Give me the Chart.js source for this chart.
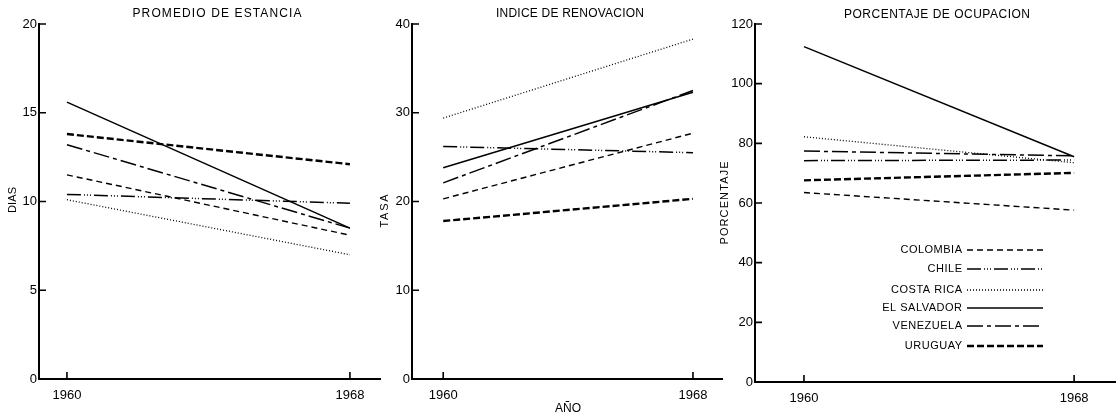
<!DOCTYPE html>
<html>
<head>
<meta charset="utf-8">
<script src="https://cdn.jsdelivr.net/npm/chart.js@4"></script>
<style>
  html, body { margin: 0; padding: 0; background: #fff; }
  #wrap { position: relative; width: 1116px; height: 416px; overflow: hidden; }
  .panel { position: absolute; top: 0; height: 416px; }
</style>
</head>
<body>
<div id="wrap">
  <div class="panel" style="left:0;width:385px"><canvas id="c1"></canvas></div>
  <div class="panel" style="left:380px;width:345px"><canvas id="c2"></canvas></div>
  <div class="panel" style="left:705px;width:411px"><canvas id="c3"></canvas></div>
</div>
<script>
const FONT = '"Liberation Sans", Arial, sans-serif';

const YEARS = [1960, 1968];
const COUNTRIES = ['COLOMBIA', 'CHILE', 'COSTA RICA', 'EL SALVADOR', 'VENEZUELA', 'URUGUAY'];

// promedio de estancia (dias), same order as COUNTRIES
const ESTANCIA_1960 = [11.5, 10.4, 10.1, 15.6, 13.2, 13.8];
const ESTANCIA_1968 = [8.1, 9.9, 7.0, 8.5, 8.5, 12.1];
const ESTANCIA_TICKS = [0, 5, 10, 15, 20];

// indice de renovacion (tasa)
const RENOVACION_1960 = [20.3, 26.2, 29.4, 23.8, 22.1, 17.8];
const RENOVACION_1968 = [27.7, 25.5, 38.3, 32.3, 32.5, 20.3];
const RENOVACION_TICKS = [0, 10, 20, 30, 40];

// porcentaje de ocupacion
const OCUPACION_1960 = [63.5, 74.2, 82.2, 112.4, 77.4, 67.6];
const OCUPACION_1968 = [57.6, 74.4, 73.5, 75.5, 75.8, 70.1];
const OCUPACION_TICKS = [0, 20, 40, 60, 80, 100, 120];

// line look per country
const STYLES = [
  { borderDash: [6, 4], borderWidth: 1.4 },
  { borderDash: [14, 3, 1, 2, 1, 2, 1, 3], borderWidth: 1.5 },
  { borderDash: [1, 2], borderWidth: 1.3 },
  { borderDash: [], borderWidth: 1.5 },
  { borderDash: [16, 4, 4, 4], borderWidth: 1.5 },
  { borderDash: [7, 3], borderWidth: 2.4 }
];

function makeDatasets(v1960, v1968) {
  return COUNTRIES.map((c, i) => ({
    label: c,
    data: [{ x: YEARS[0], y: v1960[i] }, { x: YEARS[1], y: v1968[i] }],
    borderColor: '#000',
    backgroundColor: '#000',
    pointRadius: 0,
    fill: false,
    tension: 0,
    borderCapStyle: 'butt',
    ...STYLES[i]
  }));
}

// text with letter spacing stretched to a width
function drawText(ctx, t) {
  ctx.save();
  ctx.font = (t.size || 11) + 'px ' + FONT;
  ctx.fillStyle = '#000';
  ctx.textBaseline = 'middle';
  ctx.letterSpacing = '0px';
  let sp = t.spacing || 0;
  if (t.width) {
    const w = ctx.measureText(t.text).width;
    sp = Math.max(0, (t.width - w) / Math.max(1, t.text.length - 1));
  }
  ctx.letterSpacing = sp + 'px';
  ctx.translate(t.x, t.y);
  if (t.rotate) ctx.rotate(-Math.PI / 2);
  const w2 = ctx.measureText(t.text).width - sp;
  let dx = -w2 / 2;
  if (t.align === 'right') dx = -w2;
  ctx.textAlign = 'left';
  ctx.fillText(t.text, dx, 0);
  ctx.restore();
}

const decor = {
  id: 'decor',
  afterDraw(chart, args, opts) {
    const ctx = chart.ctx;
    const area = chart.chartArea;
    const xs = chart.scales.x, ys = chart.scales.y;
    const off = opts.offsetX;
    ctx.save();
    ctx.strokeStyle = '#000';
    ctx.lineWidth = 1.6;
    ctx.beginPath();
    ys.ticks.forEach(t => {
      if (t.value === 0) return;
      const py = ys.getPixelForValue(t.value);
      ctx.moveTo(area.left, py);
      ctx.lineTo(area.left + 7, py);
    });
    YEARS.forEach(yr => {
      const px = xs.getPixelForValue(yr);
      ctx.moveTo(px, area.bottom);
      ctx.lineTo(px, area.bottom - 7);
    });
    ctx.stroke();
    ctx.restore();

    opts.texts.forEach(t => drawText(ctx, { ...t, x: t.x - off }));

    if (opts.legend) {
      const L = opts.legend;
      chart.data.datasets.forEach((ds, i) => {
        const y = L.rows[i];
        drawText(ctx, { text: ds.label, x: L.textRight - off, y: y, size: 11, spacing: 0.5, align: 'right' });
        ctx.save();
        ctx.strokeStyle = '#000';
        ctx.lineWidth = ds.borderWidth;
        ctx.setLineDash(ds.borderDash);
        ctx.beginPath();
        ctx.moveTo(L.lineStart - off, y);
        ctx.lineTo(L.lineEnd - off, y);
        ctx.stroke();
        ctx.restore();
      });
    }
  }
};

function makeChart(id, p) {
  return new Chart(document.getElementById(id), {
    type: 'line',
    data: { datasets: makeDatasets(p.v1960, p.v1968) },
    plugins: [decor],
    options: {
      responsive: true,
      maintainAspectRatio: false,
      animation: false,
      events: [],
      layout: { padding: { top: 24, right: p.padRight, left: 0, bottom: 0 } },
      plugins: {
        legend: { display: false },
        tooltip: { enabled: false },
        decor: { offsetX: p.offsetX, texts: p.texts, legend: p.legend }
      },
      scales: {
        x: {
          type: 'linear',
          min: p.xmin,
          max: p.xmax,
          afterBuildTicks: s => { s.ticks = YEARS.map(v => ({ value: v })); },
          afterFit: s => { s.height = p.xh; },
          grid: { display: false, drawTicks: false },
          border: { display: true, color: '#000', width: 2 },
          ticks: {
            color: '#000', font: { family: FONT, size: 13 }, padding: 9,
            maxRotation: 0, autoSkip: false, callback: v => String(v)
          }
        },
        y: {
          min: 0,
          max: p.ticks[p.ticks.length - 1],
          afterBuildTicks: s => { s.ticks = p.ticks.map(v => ({ value: v })); },
          afterFit: s => { s.width = p.yw; },
          grid: { display: false, drawTicks: false },
          border: { display: true, color: '#000', width: 2 },
          ticks: { color: '#000', font: { family: FONT, size: 13 }, padding: 2, callback: v => String(v) }
        }
      }
    }
  });
}

makeChart('c1', {
  v1960: ESTANCIA_1960, v1968: ESTANCIA_1968, ticks: ESTANCIA_TICKS,
  xmin: 1959.21, xmax: 1968.85, yw: 39, xh: 37, padRight: 5, offsetX: 0,
  texts: [
    { text: 'PROMEDIO DE ESTANCIA', x: 217, y: 14, size: 12, width: 169 },
    { text: 'DIAS', x: 13, y: 200, size: 11, width: 26, rotate: true }
  ]
});

makeChart('c2', {
  v1960: RENOVACION_1960, v1968: RENOVACION_1968, ticks: RENOVACION_TICKS,
  xmin: 1959.0, xmax: 1968.93, yw: 32, xh: 37, padRight: 3, offsetX: 380,
  texts: [
    { text: 'INDICE DE RENOVACION', x: 570, y: 14, size: 12, width: 148 },
    { text: 'TASA', x: 385, y: 211, size: 11, width: 33, rotate: true },
    { text: 'AÑO', x: 568, y: 409, size: 12, width: 26 }
  ]
});

makeChart('c3', {
  v1960: OCUPACION_1960, v1968: OCUPACION_1968, ticks: OCUPACION_TICKS,
  xmin: 1958.55, xmax: 1969.24, yw: 50, xh: 34, padRight: 0, offsetX: 705,
  texts: [
    { text: 'PORCENTAJE DE OCUPACION', x: 937, y: 15, size: 12, width: 186 },
    { text: 'PORCENTAJE', x: 725, y: 203, size: 11, width: 83, rotate: true }
  ],
  legend: { textRight: 962, lineStart: 967, lineEnd: 1043, rows: [250, 269, 290, 308, 326, 346] }
});
</script>
</body>
</html>
